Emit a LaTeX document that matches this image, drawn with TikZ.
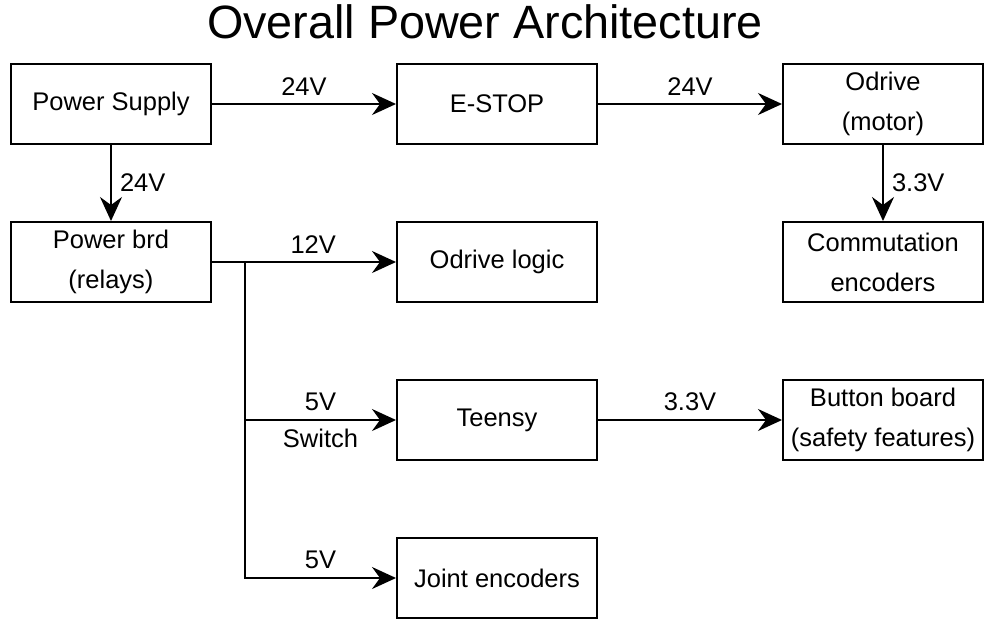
\documentclass[tikz,border=0pt]{standalone}
\usepackage{fontspec}
\setmainfont{Liberation Sans}
\usetikzlibrary{arrows.meta, positioning}

\begin{document}
\begin{tikzpicture}[x=1pt, y=1pt, node distance=158pt and 386pt, on grid, auto]
  \tikzstyle{block} = [draw, line width=2pt, fill=white, rectangle, minimum height=80pt, minimum width=200pt, align=center, font={\fontsize{25.5}{40}\selectfont}]
  \tikzstyle{powerEdgePortion} = [black, line width=2pt];
  \tikzstyle{powerEdge} = [powerEdgePortion, -{Stealth[length=24pt, width=22pt, inset=8pt]}];
  \tikzstyle{edgeLabel} = [pos=0.5, text centered, inner sep=8pt, font={\fontsize{25.5}{30}\selectfont}];

  \useasboundingbox (0,0) rectangle (993,-630);
  \node[font={\fontsize{46.75}{50}\selectfont}] (title) at (485,-22) {Overall Power Architecture};

	\node[block](ps) at (111,-104) {Power Supply};
	\node[block](es) [right=of ps] {E-STOP};
	\node[block](od) [right=of es] {Odrive\\(motor)};
	\node[block](pb) [below=of ps] {Power brd\\(relays)};
	\node[block](ol) [right=of pb] {Odrive logic};
	\node[block](ce) [right=of ol] {Commutation\\encoders};
	\node[block](te) [below=of ol] {Teensy};
	\node[block](bb) [right=of te] {Button board\\(safety features)};
	\node[block](je) [below=of te] {Joint encoders};
	\coordinate[right=33pt of pb.east] (j);

	\path[powerEdge]
	(ps) edge node[edgeLabel] {24V} (es)
		edge node[edgeLabel] {24V} (pb)
	(es) edge node[edgeLabel] {24V} (od)
	(od) edge node[edgeLabel] {3.3V} (ce)
	(pb) edge node[edgeLabel, pos=0.55] {12V} (ol)
	(te) edge node[edgeLabel] {3.3V} (bb);

	\draw[powerEdge] (j) |- node[edgeLabel, pos=0.75, above] {5V}
		node[edgeLabel, pos=0.75, below] {Switch} (te);
	\draw[powerEdge] (j) |- node[edgeLabel, pos=0.75, above] {5V} (je);
\end{tikzpicture}
\end{document}
